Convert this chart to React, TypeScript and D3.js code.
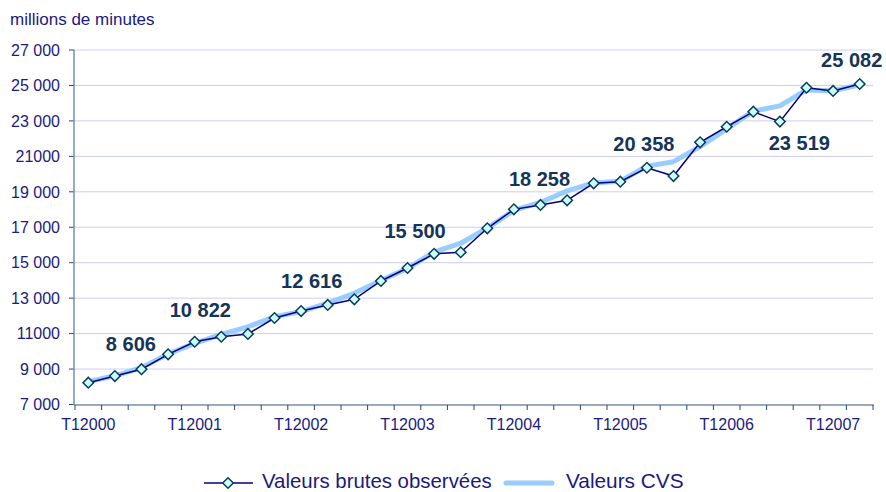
import React from 'react';
import * as d3 from 'd3';

// quarters T1 2000 .. T2 2007
const categories = [
  'T12000', 'T22000', 'T32000', 'T42000',
  'T12001', 'T22001', 'T32001', 'T42001',
  'T12002', 'T22002', 'T32002', 'T42002',
  'T12003', 'T22003', 'T32003', 'T42003',
  'T12004', 'T22004', 'T32004', 'T42004',
  'T12005', 'T22005', 'T32005', 'T42005',
  'T12006', 'T22006', 'T32006', 'T42006',
  'T12007', 'T22007',
];

// raw observed values (millions of minutes)
const brutes = [
  8230, 8606, 8990, 9830,
  10540, 10822, 10980, 11880,
  12270, 12616, 12935, 13970,
  14700, 15500, 15590, 16940,
  18010, 18258, 18520, 19480,
  19570, 20358, 19890, 21790,
  22670, 23519, 22960, 24870,
  24690, 25082,
];

// seasonally adjusted values
const cvs = [
  8290, 8620, 9080, 9850,
  10450, 10950, 11380, 11950,
  12240, 12720, 13270, 14000,
  14680, 15600, 16100, 16950,
  17950, 18400, 19050, 19500,
  19600, 20450, 20700, 21550,
  22550, 23550, 23850, 24750,
  24700, 25030,
];

const yTicks = [7000, 9000, 11000, 13000, 15000, 17000, 19000, 21000, 23000, 25000, 27000];
const yTickLabels = ['7 000', '9 000', '11000', '13 000', '15 000', '17 000', '19 000', '21000', '23 000', '25 000', '27 000'];
const xTickLabels = ['T12000', 'T12001', 'T12002', 'T12003', 'T12004', 'T12005', 'T12006', 'T12007'];

// annual labels shown on the T2 point of each year
const labelIdx = [1, 5, 9, 13, 17, 21, 25, 29];
const labelOffsets = [[16, -25], [-21, -20], [-16, -17], [-19, -16], [-1, -19], [-3, -17], [46, 38], [-8, -17]];

const W = 886;
const H = 492;
const font = '"Liberation Sans", Arial, sans-serif';
const navy = '#1a1a80';

const fmt = (v: number) => {
  const s = String(v);
  return s.length > 3 ? s.slice(0, s.length - 3) + ' ' + s.slice(-3) : s;
};

export default function App() {
  const x = d3.scaleBand<string>().domain(categories).range([75, 873]);
  const y = d3.scaleLinear().domain([7000, 27000]).range([404.5, 50]);
  const cx = (i: number) => (x(categories[i]) as number) + x.bandwidth() / 2;

  const line = d3.line<number>().x((_, i) => cx(i)).y((d) => y(d));
  const diamond = d3.symbol().type(d3.symbolSquare).size(56)() as string;

  const boundaries = categories.map((c) => x(c) as number).concat([x.range()[1]]);

  return (
    <svg width={W} height={H} style={{ position: 'absolute', left: 0, top: 0, background: '#fff' }} fontFamily={font}>
      <text x={10} y={25} fontSize={17} fill={navy}>millions de minutes</text>

      {yTicks.map((t, i) => (
        <g key={t}>
          {i > 0 && <line x1={74} x2={873} y1={y(t)} y2={y(t)} stroke="#ccccf8" strokeWidth={1} />}
          <line x1={69} x2={74} y1={y(t)} y2={y(t)} stroke="#2a4470" strokeWidth={1} />
          <text x={60} y={y(t)} dy="0.36em" textAnchor="end" fontSize={16} fill={navy}>{yTickLabels[i]}</text>
        </g>
      ))}
      <line x1={74} x2={74} y1={50} y2={405} stroke="#7b8cab" strokeWidth={1.5} />
      <line x1={74} x2={874} y1={405} y2={405} stroke="#7b8cab" strokeWidth={1.5} />
      {boundaries.map((bx, i) => (
        <line key={i} x1={bx} x2={bx} y1={405} y2={410} stroke="#2a4470" strokeWidth={1} />
      ))}
      {xTickLabels.map((lab) => (
        <text key={lab} x={(x(lab) as number) + x.bandwidth() / 2} y={430} textAnchor="middle" fontSize={16} fill={navy}>{lab}</text>
      ))}

      <path d={line(cvs) as string} fill="none" stroke="#99ccff" strokeWidth={5} strokeLinejoin="round" />
      <path d={line(brutes) as string} fill="none" stroke="#000080" strokeWidth={1.5} />
      {brutes.map((v, i) => (
        <path key={i} d={diamond} transform={`translate(${cx(i)},${y(v)}) rotate(45)`} fill="#ccffff" stroke="#0b3d52" strokeWidth={1.5} />
      ))}

      {labelIdx.map((idx, k) => (
        <text key={idx} x={cx(idx) + labelOffsets[k][0]} y={y(brutes[idx]) + labelOffsets[k][1]} textAnchor="middle" fontSize={20} fontWeight="bold" fill="#143459">{fmt(brutes[idx])}</text>
      ))}

      <g>
        <line x1={204} x2={253} y1={483} y2={483} stroke="#000080" strokeWidth={1.5} />
        <path d={diamond} transform="translate(228,483) rotate(45)" fill="#ccffff" stroke="#0b3d52" strokeWidth={1.5} />
        <text x={262} y={488} fontSize={20.4} fill={navy}>Valeurs brutes observées</text>
        <line x1={506} x2={552} y1={483} y2={483} stroke="#99ccff" strokeWidth={5} strokeLinecap="round" />
        <text x={566} y={488} fontSize={20.8} fill={navy}>Valeurs CVS</text>
      </g>
    </svg>
  );
}
